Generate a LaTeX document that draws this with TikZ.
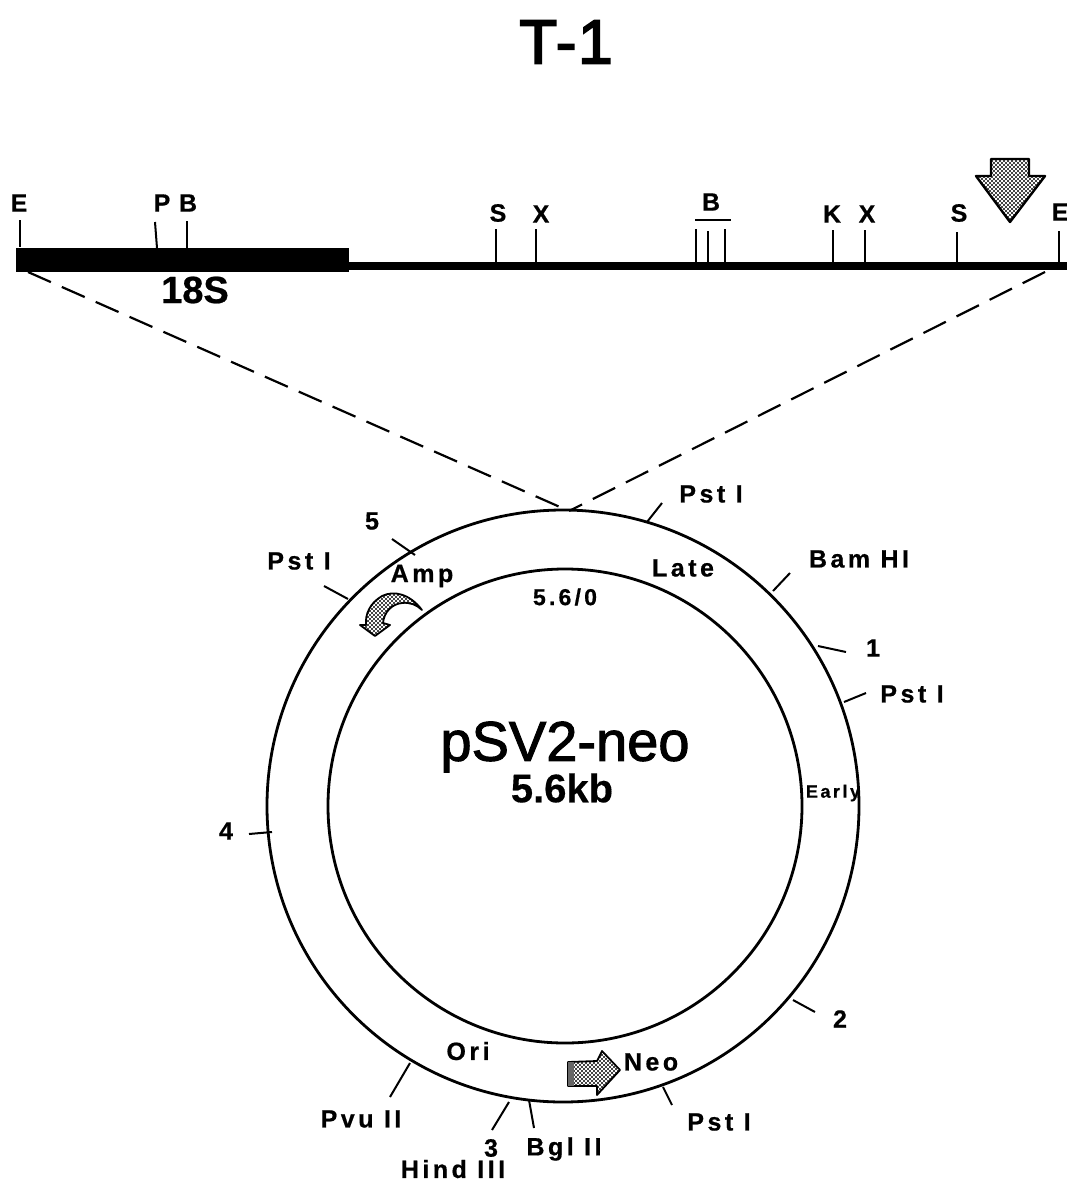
\documentclass[tikz,border=0pt]{standalone}
\usepackage{fontspec}
\setmainfont{Liberation Sans}
\newfontfamily\labfont[LetterSpace=14,FakeBold=0.6]{Liberation Sans Bold}
\newfontfamily\tightfont[FakeBold=0.6]{Liberation Sans Bold}
\newfontfamily\heavyfont[FakeBold=1.8]{Liberation Sans}
\newfontfamily\sizefont[FakeBold=0.3]{Liberation Sans Bold}
\newfontfamily\titlefont[FakeBold=3,LetterSpace=3]{Liberation Sans}
\usetikzlibrary{patterns}
\pgfdeclarepatternformonly{stipple}{\pgfqpoint{-1pt}{-1pt}}{\pgfqpoint{3pt}{3pt}}{\pgfqpoint{4pt}{4pt}}{
  \pgfpathcircle{\pgfqpoint{0pt}{0pt}}{1.15pt}
  \pgfpathcircle{\pgfqpoint{2pt}{2pt}}{1.15pt}
  \pgfusepath{fill}
}
\tikzset{
  lab/.style={inner sep=0pt,font=\labfont\fontsize{25}{27}\selectfont},
  maplab/.style={inner sep=0pt,font=\tightfont\fontsize{25}{27}\selectfont},
  ticked/.style={line width=2pt},
  ring/.style={line width=2.8pt},
  zoomline/.style={line width=2.2pt,dash pattern=on 25pt off 12pt},
  shadedarrow/.style={draw,line width=2.4pt,line join=round,pattern=stipple,pattern color=black}
}
\begin{document}
\begin{tikzpicture}[x=1pt,y=-1pt]
\useasboundingbox (0,0) rectangle (1067,1181);
\fill[white] (0,0) rectangle (1067,1181);
\node[inner sep=0pt,font=\titlefont\fontsize{62}{64}\selectfont] (title) at (566,42) {T-1};

% restriction map
\coordinate (barL) at (16,248); \coordinate (barR) at (349,272);
\coordinate (lineL) at (349,266); \coordinate (lineR) at (1067,266);
\fill[black] (barL) rectangle (barR);
\draw[line width=7.5pt] (lineL) -- (lineR);
\node[inner sep=0pt,font=\tightfont\fontsize{38}{40}\selectfont] (s18) at (195,290) {18S};

\foreach \nm/\lx/\ly/\txt in {e1/19/203/E,p1/162/203/P,b1/188/203/B,s1/498/213/S,x1/541/214/X,b2/711/202/B,k1/832/214/K,x2/867/214/X,s2/959/213/S,e2/1060/212/E}
  \node[maplab] (\nm) at (\lx,\ly) {\txt};

\foreach \nm/\tx/\ty/\bx/\by in {e1/20/220/20/247,p1/155/222/157/248,b1/187/221/187/248,s1/496/229/496/263,x1/536/229/536/263,ba/696/229/696/263,bb/708/231/708/263,bc/725/229/725/263,k1/833/230/833/263,x2/865/230/865/263,s2/957/232/957/263,e2/1059/231/1059/263}{
  \coordinate (\nm t) at (\tx,\ty); \coordinate (\nm b) at (\bx,\by);
  \draw[ticked] (\nm t) -- (\nm b);
}
\coordinate (ovL) at (695,220); \coordinate (ovR) at (731,220);
\draw[ticked] (ovL) -- (ovR);

% insertion arrow
\draw[shadedarrow] (991,159) -- (1029,159) -- (1029,176) -- (1045,176) -- (1010,222) -- (976,176) -- (991,176) -- cycle;

% plasmid
\coordinate (centre) at (563,806);
\coordinate (centreB) at (565,806);
\draw[ring] (centre) circle[radius=296];
\draw[ring] (centreB) circle[radius=237];

% dashed lines
\coordinate (zl) at (28,272); \coordinate (zr) at (1045,272); \coordinate (zp) at (569,511);
\draw[zoomline] (zl) -- (zp);
\draw[zoomline] (zr) -- (zp);

% labels
\node[inner sep=0pt,font=\heavyfont\fontsize{56}{58}\selectfont] (pname) at (565,747) {pSV2-neo};
\node[inner sep=0pt,font=\sizefont\fontsize{40}{42}\selectfont] (psize) at (562,788) {5.6kb};
\node[lab] (pstA) at (711,494) {Pst I};
\node[lab] (bam) at (859,559) {Bam HI};
\node[lab] (one) at (873,648) {1};
\node[lab] (pstB) at (912,694) {Pst I};
\node[inner sep=0pt,font=\labfont\fontsize{18}{20}\selectfont] (early) at (833,793) {Early};
\node[lab] (late) at (683,568) {Late};
\node[lab] (amp) at (422,576) {Amp};
\node[lab] (five) at (372,521) {5};
\node[lab] (pstC) at (299,561) {Pst I};
\node[inner sep=0pt,font=\labfont\fontsize{23}{25}\selectfont] (zero) at (565,597) {5.6/0};
\node[lab] (four) at (226,831) {4};
\node[lab] (two) at (840,1019) {2};
\node[lab] (neo) at (651,1062) {Neo};
\node[lab] (pstD) at (719,1122) {Pst I};
\node[lab] (bgl) at (564,1149) {Bgl II};
\node[lab] (three) at (491,1148) {3};
\node[lab] (hind) at (453,1169) {Hind III};
\node[lab] (pvu) at (361,1119) {Pvu II};
\node[lab] (ori) at (468,1051) {Ori};

% plasmid ticks
\foreach \nm/\ax/\ay/\bx/\by in {pA/647/522/662/503,bm/773/591/790/573,on/818/646/846/652,pB/844/702/866/693,fr/249/834/272/832,tw/793/1000/815/1012,pD/663/1087/672/1105,bg/529/1100/534/1128,th/509/1102/492/1130,pv/410/1063/390/1097,fv/392/539/415/555,pC/324/586/348/599}{
  \coordinate (\nm a) at (\ax,\ay); \coordinate (\nm b) at (\bx,\by);
  \draw[ticked] (\nm a) -- (\nm b);
}

% Amp arrow
\draw[shadedarrow,line width=1.8pt] (422,610) .. controls (410,594) and (394,590) .. (382,596)
  .. controls (370,603) and (365,614) .. (366,625) -- (360,625) -- (375,636) -- (390,625) -- (383,623)
  .. controls (384,612) and (392,604) .. (402,603) .. controls (410,602) and (417,605) .. (422,610) -- cycle;

% Neo arrow
\draw[shadedarrow,line width=1.8pt] (568,1062) -- (597,1061) -- (602,1051) -- (620,1070) -- (597,1095) -- (597,1086) -- (568,1086) -- cycle;
\fill[black!60] (568,1062) rectangle (574,1086);
\end{tikzpicture}
\end{document}
